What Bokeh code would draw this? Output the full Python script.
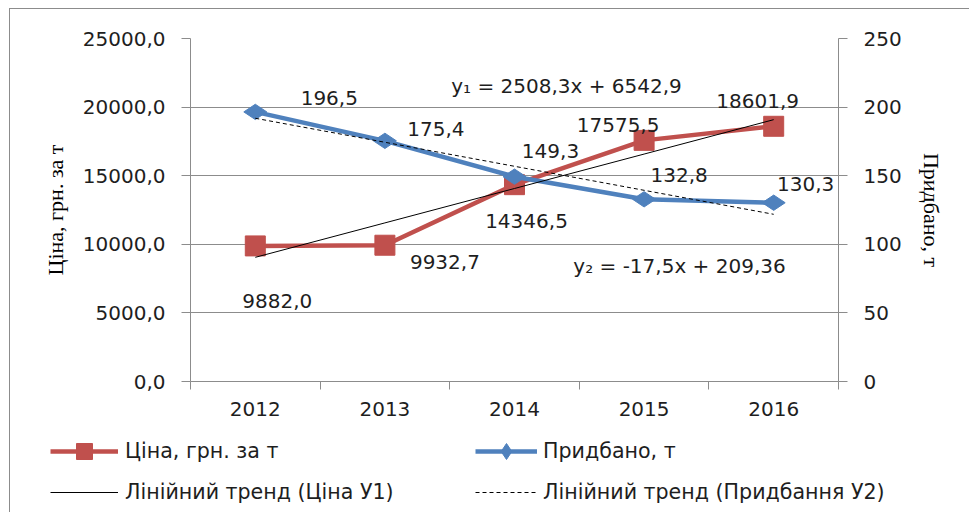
import math
from bokeh.plotting import figure
from bokeh.models import Range1d, LinearAxis, FixedTicker, Legend, LegendItem, Label
from bokeh.core.properties import value
from bokeh.embed import file_html
from bokeh.resources import INLINE

# ---- data ----
years = ["2012", "2013", "2014", "2015", "2016"]
price = [9882.0, 9932.7, 14346.5, 17575.5, 18601.9]
bought = [196.5, 175.4, 149.3, 132.8, 130.3]
trend_price = [9051.2, 11559.5, 14067.8, 16576.1, 19084.4]
trend_bought = [191.86, 174.36, 156.86, 139.36, 121.86]
left_ticks = [0, 5000, 10000, 15000, 20000, 25000]
right_ticks = [0, 50, 100, 150, 200, 250]
eq1 = "y\u2081 = 2508,3x + 6542,9"
eq2 = "y\u2082 = -17,5x + 209,36"
price_title = "Ціна, грн. за т"
bought_title = "Придбано, т"
trend1_name = "Лінійний тренд (Ціна У1)"
trend2_name = "Лінійний тренд (Придбання У2)"

# ---- styling ----
RED = "#C0504D"
BLUE = "#4F81BD"
GRAY = "#8c8c8c"
TXT = "#1e1e1e"
FONT = "DejaVu Sans"
SERIF = "Liberation Serif"
FS = "20px"
NAN = float("nan")

# label offsets in pixels (dx, dy)
price_off = [(22, 55), (60, 17), (12, 36), (-26, -15), (-16, -25)]
bought_off = [(74, -14), (51, -12), (36, -26), (35, -24), (32, -19)]

xs = list(range(len(years)))

p = figure(width=960, height=422, output_backend="svg", toolbar_location=None,
           x_range=Range1d(-0.5, len(years) - 0.5), y_range=Range1d(0, 25000),
           min_border_left=180, min_border_right=132, min_border_top=29,
           min_border_bottom=50, margin=(8, 0, 0, 9))
p.styles = {"border-left": "1px solid " + GRAY, "border-top": "1px solid " + GRAY}
p.extra_y_ranges = {"right": Range1d(0, 250)}
p.outline_line_color = None
p.background_fill_color = "white"
p.border_fill_color = "white"

# x axis
xa = p.xaxis[0]
xa.ticker = FixedTicker(ticks=xs, minor_ticks=[i - 0.5 for i in range(len(years) + 1)])
xa.major_label_overrides = {i: y for i, y in enumerate(years)}
xa.major_tick_line_color = None
xa.minor_tick_line_color = GRAY
xa.minor_tick_in = 0
xa.minor_tick_out = 8
xa.axis_line_color = GRAY
xa.major_label_standoff = 12
xa.major_label_text_font = FONT
xa.major_label_text_font_size = FS
xa.major_label_text_color = TXT

# left y axis
ya = p.yaxis[0]
ya.ticker = FixedTicker(ticks=left_ticks)
ya.major_label_overrides = {t: f"{t:.1f}".replace(".", ",") for t in left_ticks}
ya.minor_tick_line_color = None
ya.major_tick_line_color = GRAY
ya.major_tick_in = 0
ya.major_tick_out = 9
ya.axis_line_color = GRAY
ya.major_label_standoff = 16
ya.major_label_text_font = FONT
ya.major_label_text_font_size = FS
ya.major_label_text_color = TXT
ya.axis_label = price_title
ya.axis_label_text_font = SERIF
ya.axis_label_text_font_size = "22px"
ya.axis_label_text_font_style = "normal"
ya.axis_label_text_color = "black"
ya.axis_label_standoff = 12

# right y axis
ra = LinearAxis(y_range_name="right", ticker=FixedTicker(ticks=right_ticks))
ra.minor_tick_line_color = None
ra.major_tick_line_color = GRAY
ra.major_tick_in = 0
ra.major_tick_out = 9
ra.axis_line_color = GRAY
ra.major_label_standoff = 16
ra.major_label_text_font = FONT
ra.major_label_text_font_size = FS
ra.major_label_text_color = TXT
ra.axis_label = bought_title
ra.axis_label_text_font = SERIF
ra.axis_label_text_font_size = "22px"
ra.axis_label_text_font_style = "normal"
ra.axis_label_text_color = "black"
ra.axis_label_standoff = 14
p.add_layout(ra, "right")

p.xgrid.visible = False
p.ygrid.grid_line_color = GRAY

# series
r_line = p.line(xs, price, line_color=RED, line_width=4.5)
r_pts = p.scatter(xs, price, marker="square", size=20, fill_color=RED, line_color=RED)
b_line = p.line(xs, bought, line_color=BLUE, line_width=4.5, y_range_name="right")
b_pts = p.scatter(xs, bought, marker="diamond", size=23, angle=math.pi / 2,
                  fill_color=BLUE, line_color=BLUE, y_range_name="right")
t1 = p.line(xs, trend_price, line_color="black", line_width=1)
t2 = p.line(xs, trend_bought, line_color="black", line_width=1, line_dash="4 3",
            y_range_name="right")

# data labels
p.text(x=xs, y=price, text=[f"{v:.1f}".replace(".", ",") for v in price],
       x_offset=[o[0] for o in price_off], y_offset=[o[1] for o in price_off],
       text_font=value(FONT), text_font_size=FS, text_color=TXT,
       text_align="center", text_baseline="middle")
p.text(x=xs, y=bought, text=[f"{v:.1f}".replace(".", ",") for v in bought],
       x_offset=[o[0] for o in bought_off], y_offset=[o[1] for o in bought_off],
       text_font=value(FONT), text_font_size=FS, text_color=TXT,
       text_align="center", text_baseline="middle", y_range_name="right")

# equations
for txt, lx, ly in [(eq1, 376, 296), (eq2, 489, 116)]:
    p.add_layout(Label(x=lx, y=ly, x_units="screen", y_units="screen", text=txt,
                       text_font=FONT, text_font_size=FS, text_color=TXT,
                       text_align="center", text_baseline="middle"))

# ---- legend strip (separate root below the chart) ----
lg = figure(width=960, height=82, output_backend="svg", toolbar_location=None,
            x_range=Range1d(0, 1), y_range=Range1d(0, 1),
            x_axis_type=None, y_axis_type=None,
            min_border_left=0, min_border_right=0, min_border_top=0,
            min_border_bottom=0, margin=(0, 0, 0, 9))
lg.styles = {"border-left": "1px solid " + GRAY}
lg.outline_line_color = None
lg.grid.visible = False
lg.background_fill_color = "white"
lg.border_fill_color = "white"

# legend sample glyphs (no visible data of their own)
k_r_line = lg.line([0], [NAN], line_color=RED, line_width=4.5)
k_r_pts = lg.scatter([0], [NAN], marker="square", size=16, fill_color=RED, line_color=RED)
k_t1 = lg.line([0], [NAN], line_color="black", line_width=1)
k_b_line = lg.line([0], [NAN], line_color=BLUE, line_width=4.5)
k_b_pts = lg.scatter([0], [NAN], marker="diamond", size=18, angle=math.pi / 2,
                     fill_color=BLUE, line_color=BLUE)
k_t2 = lg.line([0], [NAN], line_color="black", line_width=1, line_dash="4 3")


def make_legend(items, loc, gw, standoff):
    return Legend(items=items, location=loc, orientation="vertical",
                  glyph_width=gw, glyph_height=40, label_standoff=standoff, spacing=1,
                  padding=0, margin=0, border_line_color=None, background_fill_alpha=0,
                  label_text_font=FONT, label_text_font_size="20.6px",
                  label_text_color=TXT, label_height=20)


lg.add_layout(make_legend([LegendItem(label=price_title, renderers=[k_r_line, k_r_pts]),
                           LegendItem(label=trend1_name, renderers=[k_t1])],
                          (40, 0), 68, 7))
lg.add_layout(make_legend([LegendItem(label=bought_title, renderers=[k_b_line, k_b_pts]),
                           LegendItem(label=trend2_name, renderers=[k_t2])],
                          (465, 0), 62, 6))

open("out.html", "w").write(file_html([p, lg], INLINE))
